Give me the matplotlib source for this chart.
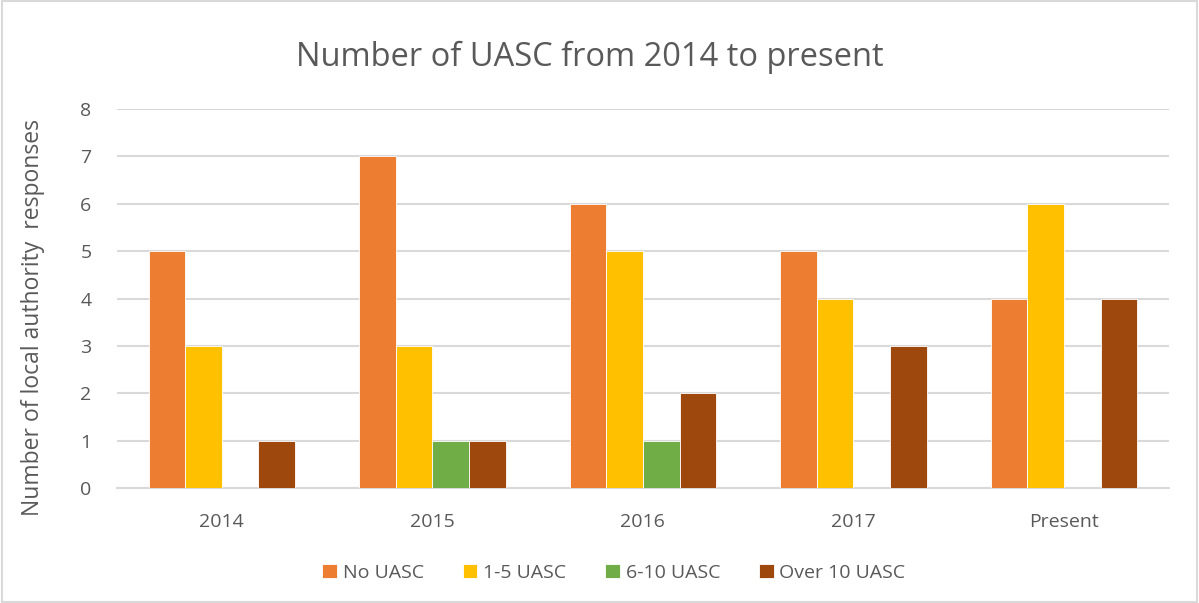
import matplotlib
matplotlib.use("Agg")
import matplotlib.pyplot as plt
import numpy as np
from matplotlib.patches import Rectangle

categories = ["2014", "2015", "2016", "2017", "Present"]
series_names = ["No UASC", "1-5 UASC", "6-10 UASC", "Over 10 UASC"]
no_uasc = [5, 7, 6, 5, 4]
uasc_1_5 = [3, 3, 5, 4, 6]
uasc_6_10 = [0, 1, 1, 0, 0]
uasc_over_10 = [1, 1, 2, 3, 4]
colors = ["#ED7D31", "#FFC000", "#70AD47", "#9E480E"]

plt.rcParams['font.family'] = ['Open Sans', 'DejaVu Sans']
text_color = "#595959"

fig = plt.figure(figsize=(11.99, 6.03), dpi=100)
ax = fig.add_axes([0.0972, 0.1907, 0.878, 0.6285])

x = np.arange(len(categories))
w = 0.174
all_series = [no_uasc, uasc_1_5, uasc_6_10, uasc_over_10]
for i, (vals, name, c) in enumerate(zip(all_series, series_names, colors)):
    ax.bar(x + (i - 1.5) * w, vals, width=w, color=c, edgecolor="white",
           linewidth=0.6, label=name, zorder=3)

ax.set_xlim(-0.5, len(categories) - 0.5)
ax.set_ylim(0, 8)
ax.set_yticks(range(0, 9))
ax.set_xticks(x)
ax.set_xticklabels(categories)
ax.tick_params(axis='both', length=0, colors=text_color, labelsize=14)
ax.tick_params(axis='y', pad=18)
ax.tick_params(axis='x', pad=18)
ax.yaxis.grid(True, color="#d9d9d9", linewidth=1.5, zorder=0)
for s in ["top", "right", "left"]:
    ax.spines[s].set_visible(False)
ax.spines["bottom"].set_color("#d9d9d9")
ax.spines["bottom"].set_linewidth(1.5)

fig.text(33 / 1199, 1 - 318 / 603, "Number of local authority  responses", rotation=90,
         ha="center", va="center", color=text_color, fontsize=16.5)
fig.text(590 / 1199, 1 - 57 / 603, "Number of UASC from 2014 to present", ha="center", va="center",
         fontsize=23.5, color=text_color)

leg = fig.legend(loc="center", bbox_to_anchor=(614 / 1199, 1 - 573 / 603), ncol=4, frameon=False,
                 fontsize=14, handlelength=0.75, handleheight=0.75, handletextpad=0.3,
                 columnspacing=2.0, labelcolor=text_color)

fig.patches.append(Rectangle((0.002, 0.002), 0.996, 0.996, transform=fig.transFigure,
                             fill=False, edgecolor="#d9d9d9", linewidth=1.5))

fig.savefig("out.png", dpi=100, facecolor="white")
